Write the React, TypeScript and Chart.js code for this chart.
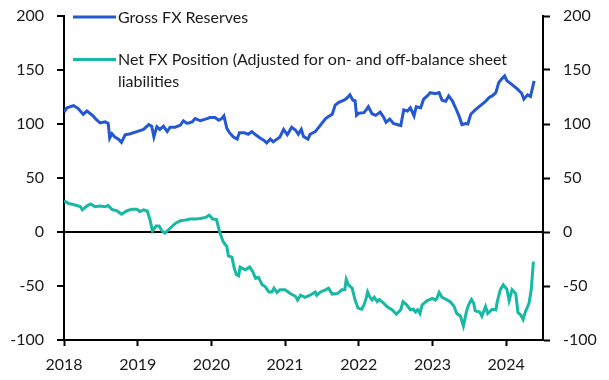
import React, { useEffect, useRef } from "react";
import { Chart, registerables } from "chart.js";

Chart.register(...registerables);

const yearTicks = [2018, 2019, 2020, 2021, 2022, 2023, 2024];
const valueTicks = [-100, -50, 0, 50, 100, 150, 200];

const grossLabel = "Gross FX Reserves";
const netLabelLines = ["Net FX Position (Adjusted for on- and off-balance sheet", "liabilities"];

const grossDates = [
  2018.00, 2018.04, 2018.13, 2018.19, 2018.26, 2018.31, 2018.35, 2018.40, 2018.44, 2018.49,
  2018.56, 2018.60, 2018.62, 2018.65, 2018.69, 2018.74, 2018.78, 2018.83, 2018.90, 2018.99,
  2019.08, 2019.15, 2019.19, 2019.22, 2019.26, 2019.30, 2019.35, 2019.40, 2019.44, 2019.51,
  2019.58, 2019.62, 2019.67, 2019.74, 2019.78, 2019.85, 2019.94, 2019.98, 2020.05, 2020.10,
  2020.14, 2020.17, 2020.21, 2020.25, 2020.30, 2020.35, 2020.38, 2020.44, 2020.50, 2020.55,
  2020.60, 2020.66, 2020.71, 2020.75, 2020.80, 2020.84, 2020.89, 2020.93, 2020.98, 2021.03,
  2021.09, 2021.14, 2021.18, 2021.22, 2021.25, 2021.31, 2021.34, 2021.41, 2021.48, 2021.55,
  2021.59, 2021.64, 2021.68, 2021.73, 2021.80, 2021.84, 2021.88, 2021.92, 2021.95, 2021.97,
  2022.00, 2022.07, 2022.11, 2022.13, 2022.18, 2022.23, 2022.29, 2022.34, 2022.37, 2022.42,
  2022.47, 2022.52, 2022.57, 2022.61, 2022.66, 2022.70, 2022.75, 2022.78, 2022.84, 2022.88,
  2022.93, 2022.97, 2023.04, 2023.09, 2023.13, 2023.18, 2023.22, 2023.27, 2023.31, 2023.36,
  2023.40, 2023.45, 2023.48, 2023.52, 2023.58, 2023.65, 2023.72, 2023.77, 2023.81, 2023.86,
  2023.90, 2023.95, 2023.98, 2024.01, 2024.08, 2024.15, 2024.21, 2024.24, 2024.29, 2024.33,
  2024.38,
];
const grossValues = [
  111, 115, 117, 114.5, 109, 112, 110, 107, 104, 101,
  102, 100.5, 87, 91, 88, 86, 83, 90, 91, 93,
  95, 99.5, 98, 88, 97.5, 95, 98, 93, 97, 97,
  99, 103, 100.5, 102, 105, 103, 105, 106, 106, 103.5,
  105, 107.5, 96, 91.5, 88, 86, 92, 92, 90.5, 93,
  90, 87, 85, 82.5, 86, 83.5, 86, 88, 95, 90,
  97, 94.5, 90.5, 95, 88.5, 86, 90.5, 93, 99, 105,
  107, 109, 117.5, 120, 122, 124, 127, 122, 121.5, 108,
  110, 110.5, 114, 116, 109.5, 108, 111, 106, 101.5, 104.5,
  100.5, 99.5, 98.5, 113, 112, 115, 107.5, 116, 115, 123,
  126, 129, 128, 129, 122, 121, 126, 121.5, 115.5, 107.5,
  99.5, 100.5, 100, 109, 113, 117, 121, 124.5, 126, 129,
  138.5, 142.5, 144.5, 140, 136.5, 132.5, 128.5, 123, 127, 125.5,
  140,
];

const netDates = [
  2018.00, 2018.06, 2018.15, 2018.22, 2018.25, 2018.31, 2018.36, 2018.42, 2018.49, 2018.56,
  2018.60, 2018.65, 2018.72, 2018.78, 2018.85, 2018.92, 2018.99, 2019.03, 2019.08, 2019.13,
  2019.17, 2019.20, 2019.25, 2019.29, 2019.33, 2019.37, 2019.44, 2019.51, 2019.58, 2019.64,
  2019.71, 2019.78, 2019.85, 2019.92, 2019.97, 2020.02, 2020.07, 2020.11, 2020.16, 2020.21,
  2020.23, 2020.28, 2020.31, 2020.34, 2020.37, 2020.39, 2020.46, 2020.52, 2020.56, 2020.60,
  2020.64, 2020.69, 2020.73, 2020.78, 2020.82, 2020.85, 2020.89, 2020.93, 2021.00, 2021.07,
  2021.14, 2021.17, 2021.21, 2021.27, 2021.34, 2021.41, 2021.43, 2021.48, 2021.55, 2021.59,
  2021.64, 2021.71, 2021.77, 2021.81, 2021.83, 2021.86, 2021.91, 2021.95, 2021.99, 2022.04,
  2022.07, 2022.10, 2022.12, 2022.15, 2022.18, 2022.21, 2022.25, 2022.28, 2022.34, 2022.38,
  2022.45, 2022.51, 2022.57, 2022.60, 2022.65, 2022.70, 2022.74, 2022.77, 2022.80, 2022.83,
  2022.86, 2022.93, 2023.00, 2023.04, 2023.06, 2023.09, 2023.13, 2023.19, 2023.24, 2023.29,
  2023.33, 2023.38, 2023.42, 2023.46, 2023.49, 2023.53, 2023.56, 2023.58, 2023.64, 2023.67,
  2023.72, 2023.75, 2023.81, 2023.86, 2023.88, 2023.92, 2023.96, 2024.01, 2024.04, 2024.08,
  2024.13, 2024.16, 2024.20, 2024.23, 2024.26, 2024.31, 2024.34, 2024.37,
];
const netValues = [
  29, 26.5, 25, 23.5, 20.5, 24, 26, 23.5, 24, 23.5,
  24.5, 21, 19.5, 16.5, 19.5, 21, 21, 19, 20.5, 19.5,
  10.5, 1, 5.5, 5.5, 1, -1, 3.5, 8, 10.5, 11,
  12, 12, 12.5, 13.5, 15.5, 12, 11.5, 0.5, -9, -13.5,
  -22, -23.5, -33.5, -39.5, -40.5, -32.5, -35, -32.5, -36.5, -43,
  -42, -49, -50.5, -55.5, -55.5, -52, -56, -53.5, -53.5, -57,
  -59.5, -63, -58.5, -60.5, -58.5, -55.5, -58.5, -55.5, -53.5, -52,
  -57.5, -57, -53.5, -53.5, -44, -49, -52, -63, -70.5, -71.5,
  -67.5, -61.5, -55.5, -60, -63, -60.5, -64.5, -62.5, -66, -69,
  -72, -76, -72, -64.5, -67.5, -72, -71.5, -74, -72, -75.5,
  -67.5, -63.5, -61.5, -63, -61.5, -56, -60.5, -62.5, -64.5, -68.5,
  -75.5, -78, -87, -74, -67.5, -62.5, -66, -73, -74, -78,
  -69, -75.5, -71.5, -72, -64.5, -53.5, -49, -53, -63.5, -53.5,
  -57, -74.5, -77, -81, -74, -66, -53.5, -27.5,
];

const BLUE = "#2358d2";
const TEAL = "#17b8a4";
const FONT_FAMILY = "Lato, 'Open Sans', sans-serif";
const FONT_SIZE = 16;

const legendPlugin = {
  id: "customLegend",
  afterDraw(chart: any) {
    const ctx = chart.ctx;
    ctx.save();
    ctx.font = `${FONT_SIZE}px ${FONT_FAMILY}`;
    ctx.fillStyle = "#1a1a1a";
    ctx.textAlign = "left";
    ctx.textBaseline = "alphabetic";
    ctx.lineWidth = 3;
    ctx.lineCap = "butt";
    ctx.strokeStyle = BLUE;
    ctx.beginPath();
    ctx.moveTo(73, 17);
    ctx.lineTo(116, 17);
    ctx.stroke();
    ctx.fillText(grossLabel, 118, 23);
    ctx.strokeStyle = TEAL;
    ctx.beginPath();
    ctx.moveTo(73, 59.5);
    ctx.lineTo(116, 59.5);
    ctx.stroke();
    netLabelLines.forEach((line, i) => ctx.fillText(line, 118, 65 + i * 22.3));
    ctx.restore();
  },
};

export default function App() {
  const canvasRef = useRef<HTMLCanvasElement | null>(null);

  useEffect(() => {
    if (!canvasRef.current) return;
    const grossData = grossDates.map((d, i) => ({ x: d, y: grossValues[i] }));
    const netData = netDates.map((d, i) => ({ x: d, y: netValues[i] }));
    const tickFont = { family: FONT_FAMILY, size: FONT_SIZE };

    const chart = new Chart(canvasRef.current, {
      type: "line",
      data: {
        datasets: [
          {
            label: grossLabel,
            data: grossData,
            borderColor: BLUE,
            borderWidth: 3,
            pointRadius: 0,
            tension: 0,
            yAxisID: "y",
          },
          {
            label: netLabelLines.join(" "),
            data: netData,
            borderColor: TEAL,
            borderWidth: 3,
            pointRadius: 0,
            tension: 0,
            yAxisID: "y",
          },
        ],
      },
      options: {
        animation: false,
        responsive: true,
        maintainAspectRatio: false,
        layout: { padding: { top: 16, left: 0, right: 0, bottom: 0 } },
        plugins: { legend: { display: false }, tooltip: { enabled: false } },
        scales: {
          x: {
            type: "linear",
            position: "bottom",
            min: 2018,
            max: 2024.5,
            afterBuildTicks: (scale: any) => {
              scale.ticks = yearTicks.map((v) => ({ value: v }));
            },
            afterFit: (scale: any) => {
              scale.height = 40;
              scale.paddingLeft = 0;
              scale.paddingRight = 0;
            },
            ticks: {
              color: "#1a1a1a",
              font: tickFont,
              padding: 9,
              maxRotation: 0,
              autoSkip: false,
              callback: (v: any) => String(v),
            },
            grid: {
              drawOnChartArea: false,
              drawTicks: true,
              tickLength: 6,
              tickColor: "#000",
              tickWidth: 2,
            },
            border: { display: true, color: "#000", width: 2 },
          },
          y: {
            type: "linear",
            position: "left",
            min: -100,
            max: 200,
            afterBuildTicks: (scale: any) => {
              scale.ticks = valueTicks.map((v) => ({ value: v }));
            },
            afterFit: (scale: any) => {
              scale.width = 64;
              scale.paddingTop = 0;
              scale.paddingBottom = 0;
            },
            ticks: {
              color: "#1a1a1a",
              font: tickFont,
              padding: 13,
              callback: (v: any) => String(v),
            },
            grid: {
              drawOnChartArea: true,
              drawTicks: true,
              tickLength: 7,
              color: (c: any) => (c.tick && c.tick.value === 0 ? "#000" : "rgba(0,0,0,0)"),
              lineWidth: 2,
              tickColor: "#000",
              tickWidth: 2,
            },
            border: { display: true, color: "#000", width: 2 },
          },
          y2: {
            type: "linear",
            position: "right",
            min: -100,
            max: 200,
            afterBuildTicks: (scale: any) => {
              scale.ticks = valueTicks.map((v) => ({ value: v }));
            },
            afterFit: (scale: any) => {
              scale.width = 66;
              scale.paddingTop = 0;
              scale.paddingBottom = 0;
            },
            ticks: {
              color: "#1a1a1a",
              font: tickFont,
              padding: 13,
              callback: (v: any) => String(v),
            },
            grid: {
              drawOnChartArea: false,
              drawTicks: true,
              tickLength: 7,
              tickColor: "#000",
              tickWidth: 2,
            },
            border: { display: true, color: "#000", width: 2 },
          },
        },
      },
      plugins: [legendPlugin],
    });
    return () => chart.destroy();
  }, []);

  return (
    <div style={{ position: "fixed", left: 0, top: 0, width: 609, height: 380, background: "#fff" }}>
      <canvas ref={canvasRef} />
    </div>
  );
}
